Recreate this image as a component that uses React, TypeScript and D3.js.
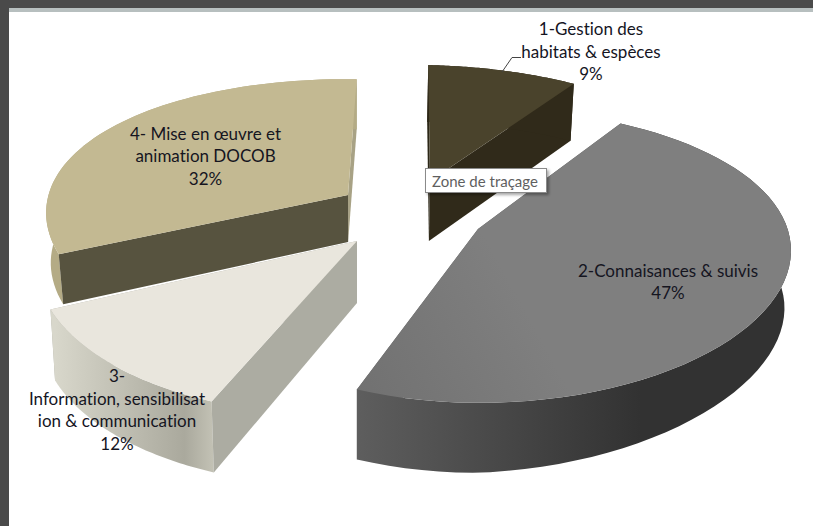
import React from "react";
import * as d3 from "d3";

// ---- data ----
const categories = ["1-Gestion des habitats & espèces", "2-Connaisances & suivis", "3-Information, sensibilisation & communication", "4- Mise en œuvre et animation DOCOB"];
const shares = [9, 47, 12, 32];
const labelLines = [
  ["1-Gestion des", "habitats & espèces", "9%"],
  ["2-Connaisances & suivis", "47%"],
  ["3-", "Information, sensibilisat", "ion & communication", "12%"],
  ["4- Mise en œuvre et", "animation DOCOB", "32%"],
];
const tooltipText = "Zone de traçage";

// ---- appearance ----
const topFill = ["#4a432c", "url(#topB)", "#e9e6dd", "#c3b992"];
const wallFill = ["#302a1a", "url(#wallB)", "url(#wallC)", "#b4ab85"];
const startWallFill = ["#2c2717", "#5a5a5a", "#acaca2", "#57533f"];
const endWallFill = ["#302a1a", "#5a5a5a", "#acaca2", "#a8a285"];
const paintOrder = [0, 3, 2, 1];

// ---- layout ----
const W = 813, H = 526;
const centre = { x: 403, y: 215 };
const explode = [[27, -34], [75, 14], [-46, 26], [-55, -20]];
const rimDepth = [57, 70, 71, 50];
const apexDepth = [60, 70, 62, 47];
const floorTilt = [0, 0.04, 0, 0];
const xScale = [0.98, 1.015, 1.03, 0.975];
const yScale = [0.95, 0.99, 0.99, 0.95];
const shear = [-0.025, 0.01, -0.13, -0.115];
const shearRight = [0, 0.05, 0, 0];
const lift = [0.028, 0, 0, 0.022];
const R = 305, Rs = 144, kx = 0.12, ky = 0.18;
const floorShrink = 0.985, floorX = 357;
const labelPos = [
  { x: 591, y: 28.5 },
  { x: 668, y: 270 },
  { x: 117, y: 375.5 },
  { x: 205.5, y: 133 },
];
const lineGap = 22.5;

const pie = d3.pie<number>().sort(null).startAngle(-Math.PI / 180).endAngle(2 * Math.PI - Math.PI / 180);
const arcs = pie(shares);
const line = d3.line<[number, number]>();

function project(i: number, a: number, r: number, floor: boolean): [number, number] {
  const X = r * Math.sin(a), Y = r * Math.cos(a);
  const dy0 = (-yScale[i] * Rs * Y) / (1 + ky * Y);
  const dx = (xScale[i] * R * X) / (1 + kx * Y) + (shear[i] + shearRight[i] * Math.max(0, X)) * dy0;
  const dy = dy0 + lift[i] * dx;
  const x0 = centre.x + explode[i][0] + dx;
  const y0 = centre.y + explode[i][1] + dy;
  if (!floor) return [x0, y0];
  const d = r * rimDepth[i] + (1 - r) * apexDepth[i] - floorTilt[i] * Math.max(0, dx);
  return [floorX + (x0 - floorX) * floorShrink, y0 + d];
}
function rim(i: number, a0: number, a1: number, floor: boolean) {
  return d3.range(0, 61).map((k) => project(i, a0 + ((a1 - a0) * k) / 60, 1, floor));
}

export default function App() {
  const leader = d3.line()([[502, 72], [512, 57.5], [521, 57.5]]) as string;
  return (
    <svg width={W} height={H} viewBox={`0 0 ${W} ${H}`} style={{ position: "fixed", left: 0, top: 0, background: "#fff" }} fontFamily="Lato, Carlito, sans-serif">
      <defs>
        <linearGradient id="wallB" gradientUnits="userSpaceOnUse" x1={356} y1={0} x2={640} y2={0}>
          <stop offset="0" stopColor="#5e5e5e" />
          <stop offset="1" stopColor="#323232" />
        </linearGradient>
        <linearGradient id="topB" gradientUnits="userSpaceOnUse" x1={356} y1={390} x2={520} y2={300}>
          <stop offset="0" stopColor="#717171" />
          <stop offset="1" stopColor="#7f7f7f" />
        </linearGradient>
        <linearGradient id="wallC" gradientUnits="userSpaceOnUse" x1={55} y1={0} x2={217} y2={0}>
          <stop offset="0" stopColor="#d8d7cb" />
          <stop offset="0.8" stopColor="#aaa99d" />
          <stop offset="1" stopColor="#c6c5b8" />
        </linearGradient>
        <filter id="tipShadow" x="-10%" y="-20%" width="125%" height="150%">
          <feDropShadow dx="2" dy="2" stdDeviation="1.5" floodColor="#000" floodOpacity="0.35" />
        </filter>
      </defs>
      <rect x={0} y={0} width={W} height={8} fill="#4a4a4a" />
      <rect x={0} y={8} width={W} height={4} fill="#b7bfbf" />
      <rect x={0} y={0} width={9} height={H} fill="#4a4a4a" />

      {paintOrder.map((i) => {
        const { startAngle: a0, endAngle: a1 } = arcs[i];
        const topRim = rim(i, a0, a1, false);
        const floorRim = rim(i, a0, a1, true);
        const apexTop = project(i, 0, 0, false);
        const apexFloor = project(i, 0, 0, true);
        const outer = line([...topRim, ...[...floorRim].reverse()]) + "Z";
        const startWall = line([apexTop, topRim[0], floorRim[0], apexFloor]) + "Z";
        const endWall = line([apexTop, topRim[60], floorRim[60], apexFloor]) + "Z";
        const top = line([apexTop, ...topRim]) + "Z";
        return (
          <g key={categories[i]}>
            <path d={endWall} fill={endWallFill[i]} />
            <path d={outer} fill={wallFill[i]} />
            <path d={startWall} fill={startWallFill[i]} />
            <path d={top} fill={topFill[i]} />
          </g>
        );
      })}

      <path d={leader} fill="none" stroke="#444" strokeWidth={1} />

      {labelLines.map((lines, i) => (
        <text key={i} textAnchor="middle" fontSize={17} fill="#15151f" style={{ fontVariantLigatures: "none" }}>
          {lines.map((t, j) => (
            <tspan key={j} x={labelPos[i].x} y={labelPos[i].y + j * lineGap} dominantBaseline="central">{t}</tspan>
          ))}
        </text>
      ))}

      <rect x={425.5} y={168.5} width={121} height={24} fill="#fff" stroke="#8a8a8a" filter="url(#tipShadow)" />
      <text x={485} y={181} textAnchor="middle" dominantBaseline="central" fontSize={15} fill="#5f5f5f" style={{ fontVariantLigatures: "none" }}>{tooltipText}</text>
    </svg>
  );
}
